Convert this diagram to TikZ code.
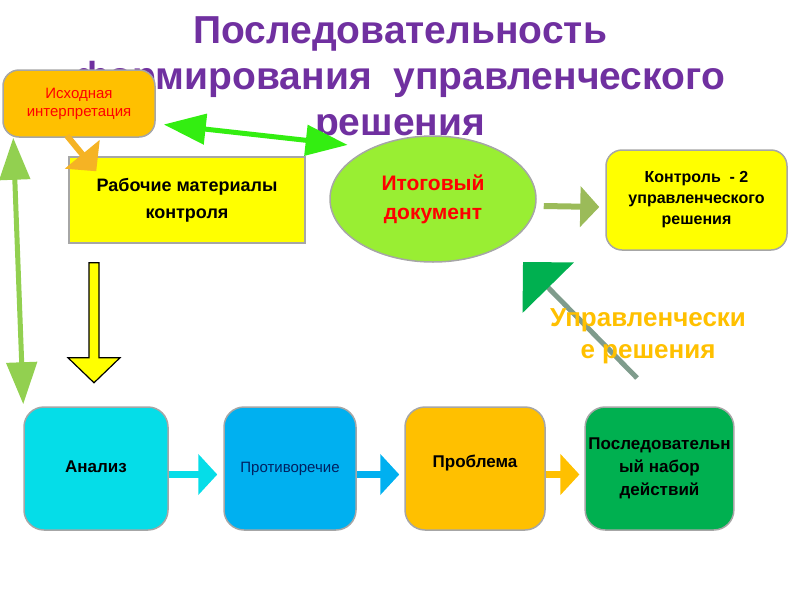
\documentclass[tikz,border=0pt]{standalone}
\usepackage{fontspec}
\setmainfont{Liberation Sans}
\usetikzlibrary{shapes,arrows.meta,positioning}
\definecolor{titlepurple}{HTML}{7030A0}
\definecolor{boxgray}{HTML}{A6A6A6}
\definecolor{boxorange}{HTML}{FFC000}
\definecolor{boxyellow}{HTML}{FFFF00}
\definecolor{ellgreen}{HTML}{99EE33}
\definecolor{boxcyan}{HTML}{05DDE8}
\definecolor{boxblue}{HTML}{00B0F0}
\definecolor{boxgreen}{HTML}{00B050}
\definecolor{textnavy}{HTML}{002060}
\definecolor{arrlight}{HTML}{92D050}
\definecolor{arrbright}{HTML}{33EE11}
\definecolor{arrolive}{HTML}{9BBB59}
\definecolor{arrgray}{HTML}{7F9C8C}
\definecolor{arrorange}{HTML}{F5B324}
\tikzstyle{box} = [rectangle, draw=boxgray, line width=1.5pt, 
    text centered, align=center]
\tikzstyle{roundbox} = [box, rounded corners=16pt]
\tikzstyle{lowbox} = [roundbox, minimum height=123pt, rounded corners=20pt]
\tikzstyle{blockarrow} = [line width=7pt, -{Triangle[width=40pt,length=19pt]}]
\tikzstyle{greenarrow} = [line width=5pt, {Triangle[width=30pt,length=42pt]}-{Triangle[width=30pt,length=42pt]}]
\tikzstyle{every node}=[font=\bfseries\fontsize{17}{21}\selectfont]

\begin{document}
\begin{tikzpicture}[x=1pt,y=-1pt]
	\useasboundingbox (0,0) rectangle (800,600);
	% Title
	\node[text=titlepurple, align=center, font=\bfseries\fontsize{39}{46}\selectfont] (title) at (400,80)
		{Последовательность\\формирования~~управленческого\\решения};

	% Place nodes
	\node[roundbox, fill=boxorange, minimum width=152pt, minimum height=67pt,
		text=red, font=\fontsize{15}{18}\selectfont] (isx) at (79,103.5) {Исходная\\интерпретация};
	\node[box, fill=boxyellow, minimum width=236pt, minimum height=86pt,
		font=\bfseries\fontsize{18}{27}\selectfont] (rab) at (187,200) {Рабочие материалы\\контроля};
	\node[ellipse, draw=boxgray, line width=1.5pt, fill=ellgreen, inner sep=0pt,
		minimum width=206pt, minimum height=126pt, text=red, align=center,
		font=\bfseries\fontsize{21}{29}\selectfont] (itog) at (433,199) {Итоговый\\документ};
	\node[roundbox, fill=boxyellow, minimum width=181pt, minimum height=100pt,
		font=\bfseries\fontsize{16}{21}\selectfont] (kontr) at (696.5,200) {Контроль ~- 2\\управленческого\\решения};

	\node[lowbox, fill=boxcyan, minimum width=144pt] (an) at (96,468.5) {\raisebox{3pt}{Анализ}};
	\node[lowbox, fill=boxblue, minimum width=132pt, text=textnavy,
		font=\fontsize{15}{18}\selectfont] (prot) at (290,468.5) {\raisebox{3pt}{Противоречие}};
	\node[lowbox, fill=boxorange, minimum width=140pt, text depth=14pt] (prob) at (475,468.5) {Проблема};
	\node[lowbox, fill=boxgreen, minimum width=145pt,
		font=\bfseries\fontsize{17}{23}\selectfont] (posl) at (659.5,468.5) {Последовательн\\ый набор\\действий};

	% Arrows
	\draw[greenarrow, arrlight] ([xshift=11pt]isx.south west) -- ([yshift=2pt]an.north west);
	\draw[greenarrow, arrbright] ([xshift=8pt,yshift=-21pt]isx.east) -- ([xshift=-12pt,yshift=9pt]itog.north west);
	\draw[arrorange, line width=6pt, -{Triangle[width=44pt,length=22pt]}]
		([xshift=-12pt,yshift=2pt]isx.south) -- ([xshift=28pt,yshift=-15pt]rab.north west);
	\draw[arrolive, line width=6pt, -{Triangle[width=40pt,length=19pt]}]
		([xshift=7pt,yshift=-7pt]itog.east) -- ([xshift=-6pt,yshift=-7pt]kontr.west);

	\coordinate (ytop) at ([xshift=-93pt,yshift=-19pt]rab.south);
	\draw[fill=boxyellow, line width=1.2pt, line join=miter]
		(ytop) ++(-5,0) -- ++(10,0) -- ++(0,95) -- ++(21,0) -- ++(-26,25)
		-- ++(-26,-25) -- ++(21,0) -- cycle;

	\draw[blockarrow, boxcyan] ([yshift=-6pt]an.east) -- ([xshift=-6pt,yshift=-6pt]prot.west);
	\draw[blockarrow, boxblue] ([yshift=-6pt]prot.east) -- ([xshift=-5pt,yshift=-6pt]prob.west);
	\draw[blockarrow, boxorange] ([yshift=-6pt]prob.east) -- ([xshift=-5pt,yshift=-6pt]posl.west);

	\coordinate (ustart) at (637,378);
	\coordinate (utip) at (523,262);
	\draw[arrgray, line width=5pt, -{Triangle[width=71pt,length=36pt,color=boxgreen]}] (ustart) -- (utip);
	\node[text=boxorange, align=center, font=\bfseries\fontsize{26}{32}\selectfont] (upr) at (648,336)
		{Управленчески\\е решения};
\end{tikzpicture}
\end{document}
